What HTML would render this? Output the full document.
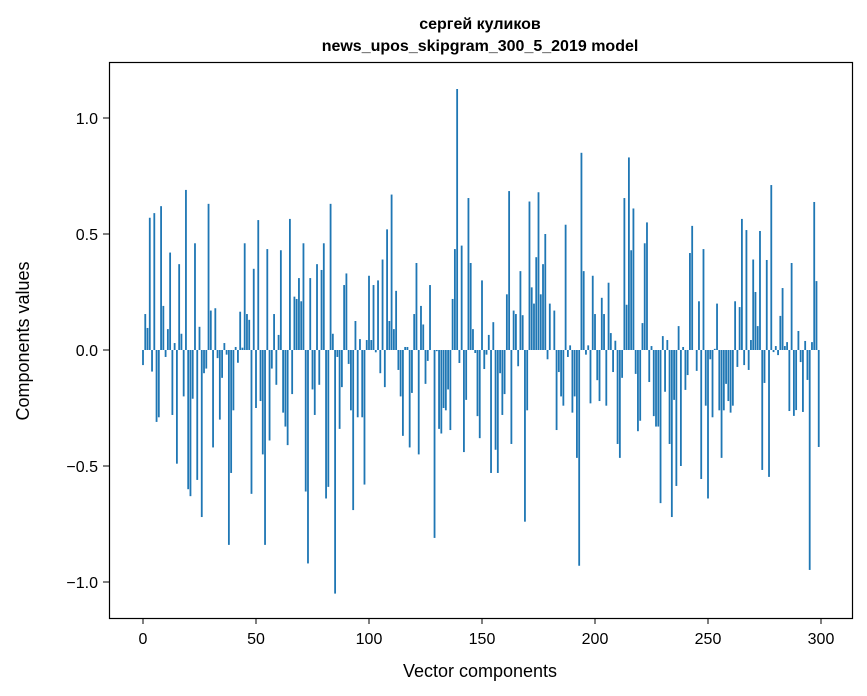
<!DOCTYPE html>
<html><head><meta charset="utf-8"><style>
body{margin:0;background:#fff;}
svg{display:block;font-family:"Liberation Sans","DejaVu Sans",sans-serif;}
</style></head><body>
<svg id="chart" width="867" height="696" viewBox="0 0 867 696" xmlns="http://www.w3.org/2000/svg">
<rect x="0" y="0" width="867" height="696" fill="#fff"/>
<text x="480" y="29" text-anchor="middle" font-size="16" font-weight="bold">сергей куликов</text>
<text x="480" y="51" text-anchor="middle" font-size="16" font-weight="bold">news_upos_skipgram_300_5_2019 model</text>
<g id="bars"></g>
<g id="xticks"></g>
<g id="yticks"></g>
<rect x="109.5" y="62.5" width="743" height="556" fill="none" stroke="#000" stroke-width="1.2"/>
<text x="480" y="677" text-anchor="middle" font-size="18">Vector components</text>
<text transform="translate(29,341) rotate(-90)" text-anchor="middle" font-size="18">Components values</text>
</svg>
<script>
const values = [
-0.065,0.155,0.095,0.57,-0.093,0.59,-0.31,-0.29,0.62,0.19,
-0.03,0.09,0.42,-0.28,0.03,-0.49,0.37,0.07,-0.2,0.69,
-0.6,-0.63,-0.21,0.46,-0.56,0.1,-0.72,-0.1,-0.08,0.63,
0.17,-0.42,0.18,-0.035,-0.3,-0.12,0.03,-0.02,-0.84,-0.53,
-0.26,0.013,-0.055,0.165,0.01,0.46,0.155,0.13,-0.62,0.35,
-0.25,0.56,-0.22,-0.45,-0.84,0.435,-0.39,-0.08,0.155,-0.15,
0.065,0.43,-0.27,-0.33,-0.41,0.565,-0.19,0.23,0.22,0.31,
0.21,0.46,-0.61,-0.92,0.31,-0.17,-0.28,0.37,-0.15,0.345,
0.46,-0.64,-0.59,0.63,0.07,-1.05,-0.03,-0.34,-0.16,0.28,
0.33,-0.06,-0.26,-0.69,0.125,-0.29,0.047,-0.29,-0.58,0.043,
0.32,0.043,0.28,-0.01,0.30,-0.10,0.39,-0.16,0.52,0.125,
0.67,0.09,0.255,-0.086,-0.2,-0.37,0.013,0.013,-0.42,-0.185,
0.155,0.375,-0.45,0.19,0.11,-0.146,-0.047,0.28,0,-0.81,
-0.005,-0.34,-0.36,-0.25,-0.26,-0.17,-0.345,0.22,0.435,1.125,
-0.056,0.45,-0.44,-0.215,0.655,0.375,0.09,-0.013,-0.285,-0.38,
0.30,-0.082,-0.02,0.065,-0.53,0.12,-0.43,-0.53,-0.1,-0.28,
-0.19,0.24,0.685,-0.405,0.17,0.155,-0.07,0.34,0.15,-0.74,
-0.26,0.64,0.27,0.2,0.40,0.68,0.24,0.37,0.50,-0.04,
0.2,0,0.17,-0.345,-0.095,-0.2,-0.24,0.54,-0.03,0.02,
-0.27,-0.2,-0.465,-0.93,0.85,0.34,-0.02,0.02,-0.23,0.32,
0.155,-0.13,-0.22,0.225,0.155,-0.24,0.29,0.073,-0.095,0.04,
-0.405,-0.465,-0.12,0.655,0.195,0.83,0.43,0.61,-0.103,-0.35,
-0.305,0.116,0.46,0.55,-0.138,0.017,-0.285,-0.33,-0.33,-0.66,
0.06,-0.18,0.043,-0.405,-0.72,-0.215,-0.586,0.103,-0.5,0.013,
-0.172,-0.108,0.418,0.535,0,-0.09,0.21,-0.556,0.435,-0.24,
-0.64,-0.04,-0.29,0.005,0.2,-0.26,-0.465,-0.26,-0.146,-0.22,
-0.27,-0.24,0.21,-0.073,0.185,0.565,-0.065,0.517,-0.086,0.043,
0.39,0.25,0.103,0.513,-0.517,-0.142,0.388,-0.547,0.711,-0.009,
0.017,-0.022,0.147,0.267,0.017,0.034,-0.263,0.375,-0.284,-0.259,
0.082,-0.052,-0.267,0.039,-0.129,-0.948,0.034,0.638,0.297,-0.418
];
const xTicks = [0,50,100,150,200,250,300];
const yTicks = [-1.0,-0.5,0.0,0.5,1.0];
const yTickLabels = ["\u22121.0","\u22120.5","0.0","0.5","1.0"];

const NS = "http://www.w3.org/2000/svg";
function xScale(v){ return 143 + (v/50)*113; }
function yScale(v){ return 350 - v*232; }
const unit = xScale(1) - xScale(0);
const barsG = document.getElementById('bars');
values.forEach((v,i)=>{
  const r = document.createElementNS(NS,'rect');
  const w = unit*0.8;
  const y0 = yScale(0), y1 = yScale(v);
  r.setAttribute('x', xScale(i) - w/2);
  r.setAttribute('y', Math.min(y0,y1));
  r.setAttribute('width', w);
  r.setAttribute('height', Math.max(Math.abs(y1-y0),0.01));
  r.setAttribute('fill', '#1f77b4');
  
  
  barsG.appendChild(r);
});
const xg = document.getElementById('xticks');
xTicks.forEach(t=>{
  const x = xScale(t);
  const l = document.createElementNS(NS,'line');
  l.setAttribute('x1',x);l.setAttribute('x2',x);l.setAttribute('y1',618);l.setAttribute('y2',624);
  l.setAttribute('stroke','#000');
  
  
  xg.appendChild(l);
  const tx = document.createElementNS(NS,'text');
  tx.setAttribute('x',x);tx.setAttribute('y',644);tx.setAttribute('text-anchor','middle');tx.setAttribute('font-size','16');
  tx.textContent = String(t);
  
  
  xg.appendChild(tx);
});
const yg = document.getElementById('yticks');
yTicks.forEach((t,i)=>{
  const y = yScale(t);
  const l = document.createElementNS(NS,'line');
  l.setAttribute('x1',103);l.setAttribute('x2',109);l.setAttribute('y1',y);l.setAttribute('y2',y);
  l.setAttribute('stroke','#000');
  
  
  yg.appendChild(l);
  const tx = document.createElementNS(NS,'text');
  tx.setAttribute('x',98);tx.setAttribute('y',y+6);tx.setAttribute('text-anchor','end');tx.setAttribute('font-size','16');
  tx.textContent = yTickLabels[i];
  
  
  yg.appendChild(tx);
});
</script>
</body></html>
